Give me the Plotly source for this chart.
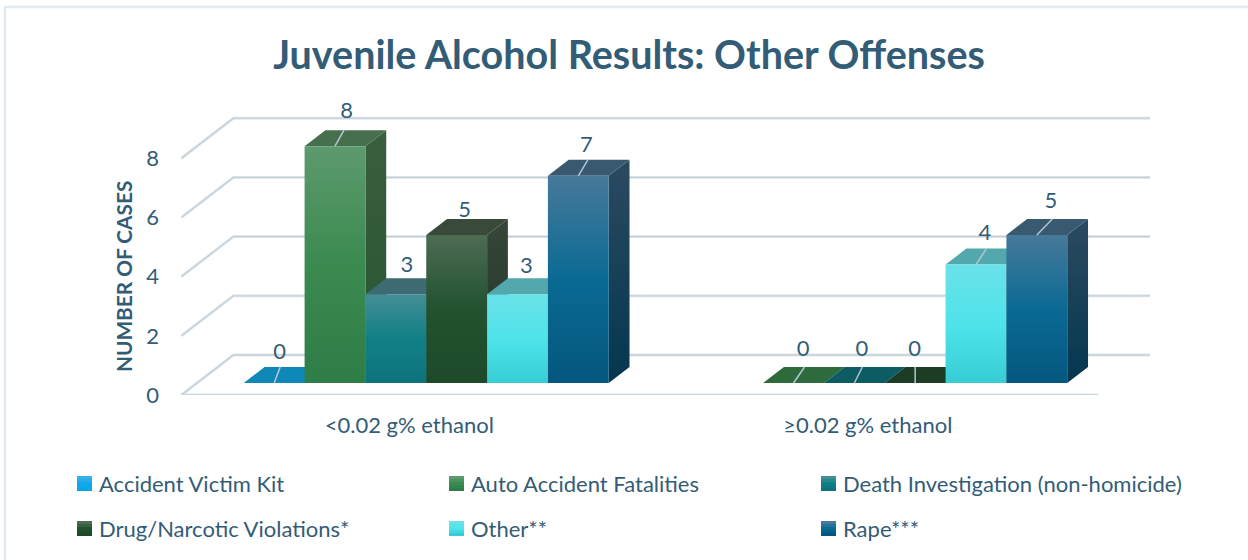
import plotly.graph_objects as go

CATEGORIES = ["<0.02 g% ethanol", "≥0.02 g% ethanol"]
SERIES = ["Accident Victim Kit", "Auto Accident Fatalities", "Death Investigation (non-homicide)",
          "Drug/Narcotic Violations*", "Other**", "Rape***"]
ACCIDENT = [0, None]
AUTO = [8, 0]
DEATH = [3, 0]
DRUG = [5, 0]
OTHER = [3, 4]
RAPE = [7, 5]
VALUES = [ACCIDENT, AUTO, DEATH, DRUG, OTHER, RAPE]
TICKS = [0, 2, 4, 6, 8]

INK = "#335c76"
GRID_SOFT = "#e0e8ed"
GRID_CORE = "#c3cfd8"
FONT = "Lato"

# style: front gradient (top, mid, bottom), side gradient (top, bottom), top face, top face when zero
STYLE = [
    (("#39b0ea", "#12a9e8", "#09a7e8"), ("#0c6f99", "#0a5f85"), "#0f87b7", "#0f87b7"),
    (("#5d9a6d", "#3b8a50", "#2f7d47"), ("#3a5e40", "#265530"), "#46704d", "#2d6b3c"),
    (("#458e96", "#118086", "#0e737c"), ("#2c5c62", "#0a4d52"), "#3e6a72", "#0e5c63"),
    (("#4d6c54", "#225230", "#1e4a2a"), ("#37463a", "#1c3622"), "#3a4a3a", "#1c3c24"),
    (("#69e2e8", "#4fe3ea", "#38ccd6"), ("#3c9aa0", "#2a8a90"), "#52a8ad", "#3fa0a6"),
    (("#47799a", "#0a6a94", "#04577e"), ("#2c4a60", "#03374f"), "#38596f", "#38596f"),
]

# label offset from the front top centre, in pixels: (dx, dy, leader?, leader dx)
LABEL_OFFSETS = [
    [(5.5, -29.5, True, 6), (11.5, -33.5, True, 9), (11, -27.5, False, 0), (8, -23.5, False, 0), (9, -26.5, False, 0), (8, -29.5, True, 9.5)],
    [None, (9.5, -32.5, True, 11), (7.5, -32.5, True, 8), (-0.5, -32.5, True, 0), (9, -30.5, True, 10.5), (14, -32.5, True, 15.5)],
]

# plot-area geometry
L, R, T, B = 181, 1150, 100, 395
PX_X = 458.5           # px per category
PX_Y = 29.6            # px per value unit
Y0_PX = 383            # pixel of value 0 on the bar plane
X_LEFT = -0.5 - 16 / PX_X
X_RIGHT = X_LEFT + (R - L) / PX_X
Y_BOTTOM = -(B - Y0_PX) / PX_Y
Y_TOP = (Y0_PX - T) / PX_Y
BARGAP = 0.204
BAR_W = (1 - BARGAP) / len(SERIES)
DEPTH_X = 52 / PX_X    # full wall depth in x units
DEPTH_Y = 40 / PX_Y    # full wall depth in y units
D_FRONT, D_BACK = 0.3, 0.7


def proj(x, v, d):
    return x + (d - D_FRONT) * DEPTH_X, v + (d - D_FRONT) * DEPTH_Y


def poly(points, **kw):
    xs = [p[0] for p in points] + [points[0][0]]
    ys = [p[1] for p in points] + [points[0][1]]
    return go.Scatter(x=xs, y=ys, mode="lines", fill="toself", line=dict(width=0),
                      hoverinfo="skip", showlegend=False, **kw)


def paper_x(px):
    return (px - L) / (R - L)


def paper_y(px):
    return (B - px) / (B - T)


def mix(c1, c2, t):
    a = [int(c1[k:k + 2], 16) for k in (1, 3, 5)]
    b = [int(c2[k:k + 2], 16) for k in (1, 3, 5)]
    return "#%02x%02x%02x" % tuple(round(p + (q - p) * t) for p, q in zip(a, b))


fig = go.Figure()

# real bars carry the values and the legend entries; their faces are shaded by the layers below
LEGEND_OF = ["legend", "legend", "legend3", "legend2", "legend2", "legend2"]
for i, (name, vals) in enumerate(zip(SERIES, VALUES)):
    fig.add_bar(x=[0, 1], y=vals, name=name, marker=dict(color="rgba(0,0,0,0)", line=dict(width=0)),
                hoverinfo="skip", legend=LEGEND_OF[i])

# walls and floor grid
X_WALL0 = -0.5
X_WALL1 = X_WALL0 + (R - L - 52) / PX_X
gx, gy = [], []
for t in TICKS:
    a = proj(X_WALL0, t, 0)
    b = proj(X_WALL0, t, 1)
    c = proj(X_WALL1, t, 1)
    gx += [a[0], b[0], c[0], None]
    gy += [a[1], b[1], c[1], None]
f0 = proj(X_WALL0, 0, 0)
f1 = proj(X_WALL1, 0, 0)
gx += [f0[0], f1[0]]
gy += [f0[1], f1[1]]
for color, width in ((GRID_SOFT, 3), (GRID_CORE, 1.3)):
    fig.add_scatter(x=gx, y=gy, mode="lines", line=dict(color=color, width=width), hoverinfo="skip",
                    showlegend=False, cliponaxis=False)

# shaded 3-D faces, left to right
for g in range(len(CATEGORIES)):
    for i, vals in enumerate(VALUES):
        v = vals[g]
        if v is None:
            continue
        x0 = g + (i - len(SERIES) / 2) * BAR_W
        x1 = x0 + BAR_W
        front, side, top, top0 = STYLE[i]
        if v > 0:
            fig.add_trace(poly([proj(x1, 0, D_FRONT), proj(x1, 0, D_BACK), proj(x1, v, D_BACK), proj(x1, v, D_FRONT)],
                               fillgradient=dict(type="vertical",
                                                 colorscale=[[0, side[1]], [1, side[0]]])))
        fig.add_trace(poly([proj(x0, v, D_FRONT), proj(x0, v, D_BACK), proj(x1, v, D_BACK), proj(x1, v, D_FRONT)],
                           fillcolor=top if v > 0 else top0))
        if v > 0:
            fig.add_trace(poly([(x0, 0), (x1, 0), (x1, v), (x0, v)],
                               fillgradient=dict(type="vertical",
                                                 colorscale=[[0, front[2]], [0.5, front[1]], [1, front[0]]])))

# leader lines and value labels
lx, ly, tx, ty, tt = [], [], [], [], []
for g in range(len(CATEGORIES)):
    for i, vals in enumerate(VALUES):
        v = vals[g]
        off = LABEL_OFFSETS[g][i]
        if v is None or off is None:
            continue
        xc = g + (i - len(SERIES) / 2 + 0.5) * BAR_W
        dx, dy, lead, ldx = off
        tx.append(xc + dx / PX_X)
        ty.append(v - dy / PX_Y)
        tt.append(str(v))
        if lead:
            lx += [xc, xc + ldx / PX_X, None]
            ly += [v, v + 16 / PX_Y, None]
fig.add_scatter(x=lx, y=ly, mode="lines", line=dict(color="#b5c6d4", width=1.5), hoverinfo="skip", showlegend=False)
fig.add_scatter(x=tx, y=ty, mode="text", text=tt, textposition="middle center",
                textfont=dict(family=FONT, size=22, color=INK), hoverinfo="skip", showlegend=False)

legend_common = dict(orientation="h", xanchor="left", yanchor="middle", entrywidth=327, entrywidthmode="pixels",
                     font=dict(family=FONT, size=22, color=INK), bgcolor="rgba(0,0,0,0)", itemclick=False,
                     itemdoubleclick=False, traceorder="normal")
legend_wide = dict(legend_common, entrywidth=365)

fig.update_layout(
    width=1248, height=560, autosize=False,
    margin=dict(l=L, r=1248 - R, t=T, b=560 - B, autoexpand=False),
    paper_bgcolor="white", plot_bgcolor="white",
    barmode="group", bargap=BARGAP, bargroupgap=0,
    font=dict(family=FONT, color=INK, size=22),
    title=dict(text="<b>Juvenile Alcohol Results: Other Offenses</b>", x=629 / 1248, xanchor="center",
               y=1 - 55 / 560, yanchor="middle", font=dict(family=FONT, size=39.5, color=INK)),
    xaxis=dict(range=[X_LEFT, X_RIGHT], tickvals=[0, 1], ticktext=CATEGORIES, showgrid=False, zeroline=False,
               showline=False, ticks="", ticklabelstandoff=15, ticklabelshift=-17,
               tickfont=dict(family=FONT, size=22, color=INK)),
    yaxis=dict(range=[Y_BOTTOM, Y_TOP], tickvals=TICKS, showgrid=False, zeroline=False, showline=False, ticks="",
               ticklabelstandoff=21, ticklabelshift=12, tickfont=dict(family=FONT, size=22, color=INK)),
    legend=dict(x=paper_x(59), y=paper_y(484), **legend_common),
    legend2=dict(x=paper_x(59), y=paper_y(529), **legend_common),
    legend3=dict(x=paper_x(803), y=paper_y(484), **legend_wide),
    annotations=[dict(text="<b>NUMBER OF CASES</b>", xref="paper", yref="paper", x=paper_x(124), y=paper_y(277),
                      xanchor="center", yanchor="middle", textangle=-90, showarrow=False,
                      font=dict(family=FONT, size=20.8, color=INK), xshift=-1)],
)

# frame on the left and top edges of the figure
fig.add_shape(type="rect", xref="paper", yref="paper", x0=paper_x(5), x1=paper_x(1300), y0=paper_y(600), y1=paper_y(7),
              line=dict(color="#dfeaf2", width=2.5), fillcolor="rgba(0,0,0,0)", layer="below")

# legend swatches with the series' front-face shading
SWATCH_X = [77, 449, 821]
SWATCH_Y = [476, 521]
SLICES = 5
for i in range(len(SERIES)):
    left = SWATCH_X[i % 3]
    top_px = SWATCH_Y[i // 3]
    front = STYLE[i][0]
    for s in range(SLICES):
        t = s / (SLICES - 1)
        col = mix(front[0], front[1], t * 2) if t < 0.5 else mix(front[1], front[2], (t - 0.5) * 2)
        fig.add_shape(type="rect", xref="paper", yref="paper", layer="above", line=dict(width=0), fillcolor=col,
                      x0=paper_x(left), x1=paper_x(left + 15),
                      y0=paper_y(top_px + s * 3), y1=paper_y(top_px + (s + 1) * 3))

fig.write_html("out.html", config=dict(displayModeBar=False),
               post_script="document.body.style.margin='0';document.body.style.overflow='hidden';")
